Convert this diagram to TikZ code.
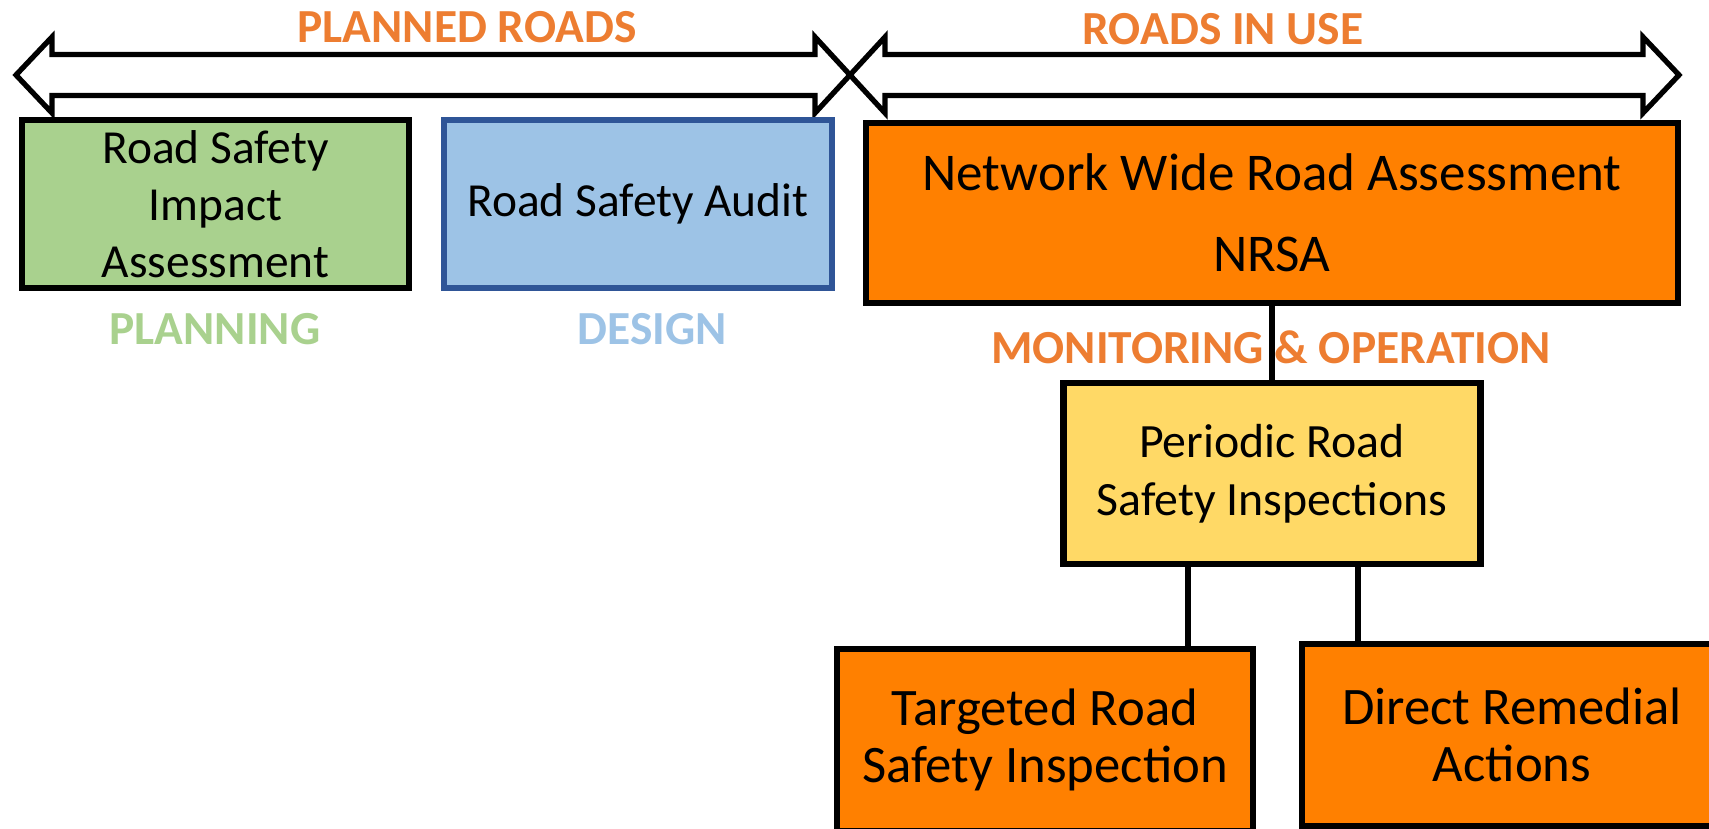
\documentclass[tikz,border=0pt]{standalone}
\usepackage{fontspec}
\setmainfont{Carlito}
\definecolor{roadorange}{RGB}{255,128,0}
\definecolor{labelorange}{RGB}{237,125,49}
\definecolor{plangreen}{RGB}{169,209,142}
\definecolor{designblue}{RGB}{157,195,230}
\definecolor{auditborder}{RGB}{47,85,151}
\definecolor{inspyellow}{RGB}{255,217,102}

\begin{document}
\begin{tikzpicture}[
  stage/.style={draw, line width=1.8pt, align=center, inner sep=0pt},
  phase/.style={font=\fontsize{13.5}{16}\selectfont\bfseries},
  bigarrow/.style={draw, fill=white, line width=1.5pt, line join=miter},
  link/.style={line width=1.5pt}]
  \useasboundingbox (0,0) rectangle (17.09,-8.29);
  \clip (0,0) rectangle (17.09,-8.29);

  % the two block arrows
  \draw[bigarrow] (0.16,-0.75) -- (0.52,-0.37) -- (0.52,-0.545) -- (8.15,-0.545) -- (8.15,-0.37)
    -- (8.50,-0.75) -- (8.15,-1.13) -- (8.15,-0.955) -- (0.52,-0.955) -- (0.52,-1.13) -- cycle;
  \draw[bigarrow] (8.50,-0.75) -- (8.85,-0.37) -- (8.85,-0.545) -- (16.43,-0.545) -- (16.43,-0.37)
    -- (16.79,-0.75) -- (16.43,-1.13) -- (16.43,-0.955) -- (8.85,-0.955) -- (8.85,-1.13) -- cycle;

  \node[phase, text=labelorange] (planned) at (4.67,-0.27) {PLANNED ROADS};
  \node[phase, text=labelorange] (inuse) at (12.23,-0.29) {ROADS IN USE};

  % boxes
  \node[stage, fill=plangreen, minimum width=3.87cm, minimum height=1.68cm,
    font=\fontsize{13.5}{16.2}\selectfont] (rsia) at (2.155,-2.04) {Road Safety\\Impact\\Assessment};
  \node[stage, fill=designblue, draw=auditborder, minimum width=3.88cm, minimum height=1.68cm,
    font=\fontsize{13.5}{16.2}\selectfont] (rsa) at (6.38,-2.04) {Road Safety Audit};
  \node[stage, fill=roadorange, minimum width=8.12cm, minimum height=1.80cm,
    font=\fontsize{15.1}{18}\selectfont] (nwra) at (12.72,-2.13) {Network Wide Road Assessment\\[5pt]NRSA};
  \node[stage, fill=inspyellow, minimum width=4.17cm, minimum height=1.81cm,
    font=\fontsize{13.6}{16.4}\selectfont] (prsi) at (12.72,-4.735) {Periodic Road\\Safety Inspections};
  \node[stage, fill=roadorange, minimum width=4.16cm, minimum height=1.82cm,
    font=\fontsize{15}{16.4}\selectfont] (trsi) at (10.45,-7.40) {Targeted Road\\Safety Inspection};
  \node[stage, fill=roadorange, minimum width=4.20cm, minimum height=1.82cm,
    font=\fontsize{15}{16.4}\selectfont] (dra) at (15.12,-7.35) {Direct Remedial\\Actions};

  \node[phase, text=plangreen] (planning) at (2.15,-3.29) {PLANNING};
  \node[phase, text=designblue] (design) at (6.52,-3.29) {DESIGN};
  \node[phase, text=labelorange] (monitor) at (12.71,-3.47) {MONITORING \& OPERATION};

  % connectors
  \draw[link] (nwra.south) -- (prsi.north);
  \draw[link] ([xshift=-8.4mm]prsi.south) -- ([xshift=-8.4mm]prsi.south |- trsi.north);
  \draw[link] ([xshift=8.6mm]prsi.south) -- ([xshift=8.6mm]prsi.south |- dra.north);
\end{tikzpicture}
\end{document}
